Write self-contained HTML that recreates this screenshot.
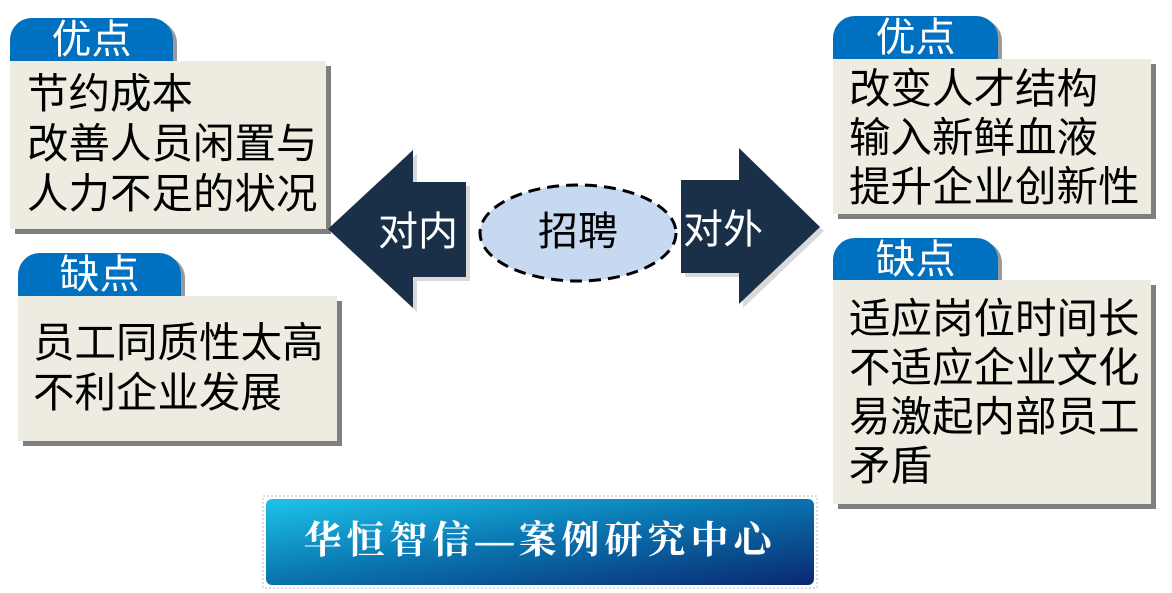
<!DOCTYPE html>
<html><head><meta charset="utf-8"><style>
body{margin:0;width:1172px;height:593px;background:#fff;position:relative;overflow:hidden;font-family:"Liberation Sans","Noto Sans CJK SC",sans-serif}
.tab{position:absolute;background:#0070c0;border-radius:22px 22px 0 0;color:#fff;font-size:40px;line-height:44px;text-align:center;box-shadow:4px 3px 0 #9a9a9a;overflow:hidden}
.box{position:absolute;background:#eeece1;box-shadow:5px 5px 0 #7f7f7f;font-size:41.5px;line-height:50px;color:#000;box-sizing:border-box;white-space:nowrap}
.lbl{position:absolute;color:#fff;font-size:40px;line-height:40px}
</style></head><body>
<div class="tab" style="left:10px;top:18px;width:163px;height:44px">优点</div>
<div class="box" style="left:10px;top:61px;width:316px;height:168px;padding:8px 0 0 17px">节约成本<br>改善人员闲置与<br>人力不足的状况</div>
<div class="tab" style="left:18px;top:253px;width:163px;height:44px">缺点</div>
<div class="box" style="left:18px;top:296px;width:319px;height:145px;padding:22px 0 0 15px">员工同质性太高<br>不利企业发展</div>

<div class="tab" style="left:833px;top:16px;width:165px;height:44px">优点</div>
<div class="box" style="left:833px;top:59px;width:318px;height:155px;padding:5px 0 0 16px;line-height:49px">改变人才结构<br>输入新鲜血液<br>提升企业创新性</div>
<div class="tab" style="left:833px;top:238px;width:165px;height:43px">缺点</div>
<div class="box" style="left:833px;top:280px;width:318px;height:224px;padding:14px 0 0 16px;line-height:49px">适应岗位时间长<br>不适应企业文化<br>易激起内部员工<br>矛盾</div>

<svg style="position:absolute;left:0;top:0" width="1172" height="593">
<polygon points="332,233 417,154 417,186 470,186 470,281 417,281 417,312" fill="#d9d9d9"/>
<polygon points="328,229 413,150 413,182 466,182 466,277 413,277 413,308" fill="#1a3048"/>
<polygon points="685,184 743,184 743,152 824,231 743,308 743,277 685,277" fill="#d9d9d9"/>
<polygon points="681,180 739,180 739,148 820,227 739,304 739,273 681,273" fill="#1a3048"/>
<ellipse cx="578" cy="233" rx="98" ry="48" fill="#c6d9f0" stroke="#000" stroke-width="3" stroke-dasharray="12,7"/>
<defs><linearGradient id="g" x1="0" y1="0" x2="1" y2="1"><stop offset="0" stop-color="#1ec4ea"/><stop offset="0.45" stop-color="#0a79b4"/><stop offset="1" stop-color="#0a2870"/></linearGradient></defs>
<rect x="263" y="496" width="554" height="92" fill="none" stroke="#bbb" stroke-dasharray="2,2"/>
<rect x="266" y="499" width="548" height="86" rx="6" fill="url(#g)"/>
</svg>
<div class="lbl" style="left:378px;top:212px">对内</div>
<div class="lbl" style="left:683px;top:210px">对外</div>
<div style="position:absolute;left:480px;top:211px;width:196px;text-align:center;font-size:40px;line-height:42px">招聘</div>
<div style="position:absolute;left:266px;top:519px;width:548px;text-align:center;color:#fff;font-size:38px;line-height:44px;font-family:'Liberation Serif','Noto Serif CJK SC',serif;font-weight:bold;letter-spacing:5px">华恒智信—案例研究中心</div>
</body></html>
